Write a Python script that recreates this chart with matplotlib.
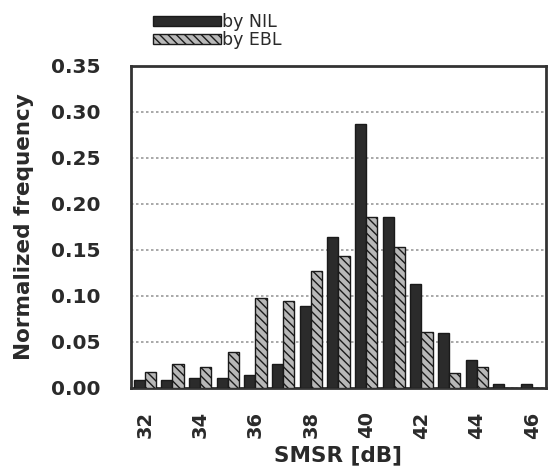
import matplotlib
matplotlib.use("Agg")
import matplotlib.pyplot as plt
import numpy as np

plt.rcParams['font.family'] = ['DejaVu Sans']
plt.rcParams['hatch.linewidth'] = 1.0

smsr = [32, 33, 34, 35, 36, 37, 38, 39, 40, 41, 42, 43, 44, 45, 46]
nil = [0.008, 0.008, 0.010, 0.010, 0.014, 0.026, 0.089, 0.164, 0.287, 0.185,
       0.113, 0.059, 0.030, 0.004, 0.004]
ebl = [0.017, 0.026, 0.023, 0.039, 0.098, 0.094, 0.127, 0.143, 0.185, 0.153,
       0.061, 0.016, 0.023, 0.0, 0.0]
tick_labels = ['32', '34', '36', '38', '40', '42', '44', '46']

fig = plt.figure(figsize=(5.49, 4.75), dpi=100)
ax = fig.add_axes([0.2386, 0.1838, 0.9945 - 0.2386, 0.8617 - 0.1838])

x = np.arange(len(smsr))
w = 0.4
b1 = ax.bar(x - w / 2, nil, width=w, color='#2b2b2b', edgecolor='#1a1a1a',
            linewidth=1.0, label='by NIL', zorder=3)
b2 = ax.bar(x + w / 2, ebl, width=w, color='#b8b8b8', edgecolor='#1a1a1a',
            hatch='\\\\\\\\', linewidth=1.0, label='by EBL', zorder=3)

ax.set_xlim(-0.5, len(smsr) - 0.5)
ax.set_ylim(0, 0.35)
ax.set_yticks(np.arange(0, 0.351, 0.05))
ax.set_yticklabels([f'{v:.2f}' for v in np.arange(0, 0.351, 0.05)],
                   fontsize=14.5, fontweight='bold', color='#2a2a2a')
ax.set_xticks([x[smsr.index(int(t))] for t in tick_labels])
ax.set_xticklabels(tick_labels, rotation=90, fontsize=14,
                   fontweight='bold', color='#2a2a2a')
ax.tick_params(axis='y', length=0, pad=22)
ax.tick_params(axis='x', length=0, pad=17)

ax.yaxis.grid(True, linestyle=(0, (1.5, 1.5)), color='#999999', linewidth=1.2)
ax.set_axisbelow(True)
for s in ax.spines.values():
    s.set_linewidth(2.0)
    s.set_color('#333333')

ax.set_ylabel('Normalized frequency', fontsize=15.5, fontweight='bold',
              color='#2a2a2a', labelpad=12)
ax.set_xlabel('SMSR [dB]', fontsize=15.5, fontweight='bold', color='#2a2a2a',
              labelpad=5)

leg = fig.legend(handles=[b1, b2], labels=['by NIL', 'by EBL'],
                 loc='upper left', bbox_to_anchor=(141 / 549, 1 - 1 / 475),
                 frameon=False, fontsize=12.5, handlelength=3.9,
                 handleheight=0.55, handletextpad=0.05, labelspacing=0.0,
                 borderpad=0.2)
for t in leg.get_texts():
    t.set_color('#2a2a2a')

fig.savefig('out.png', dpi=100)
